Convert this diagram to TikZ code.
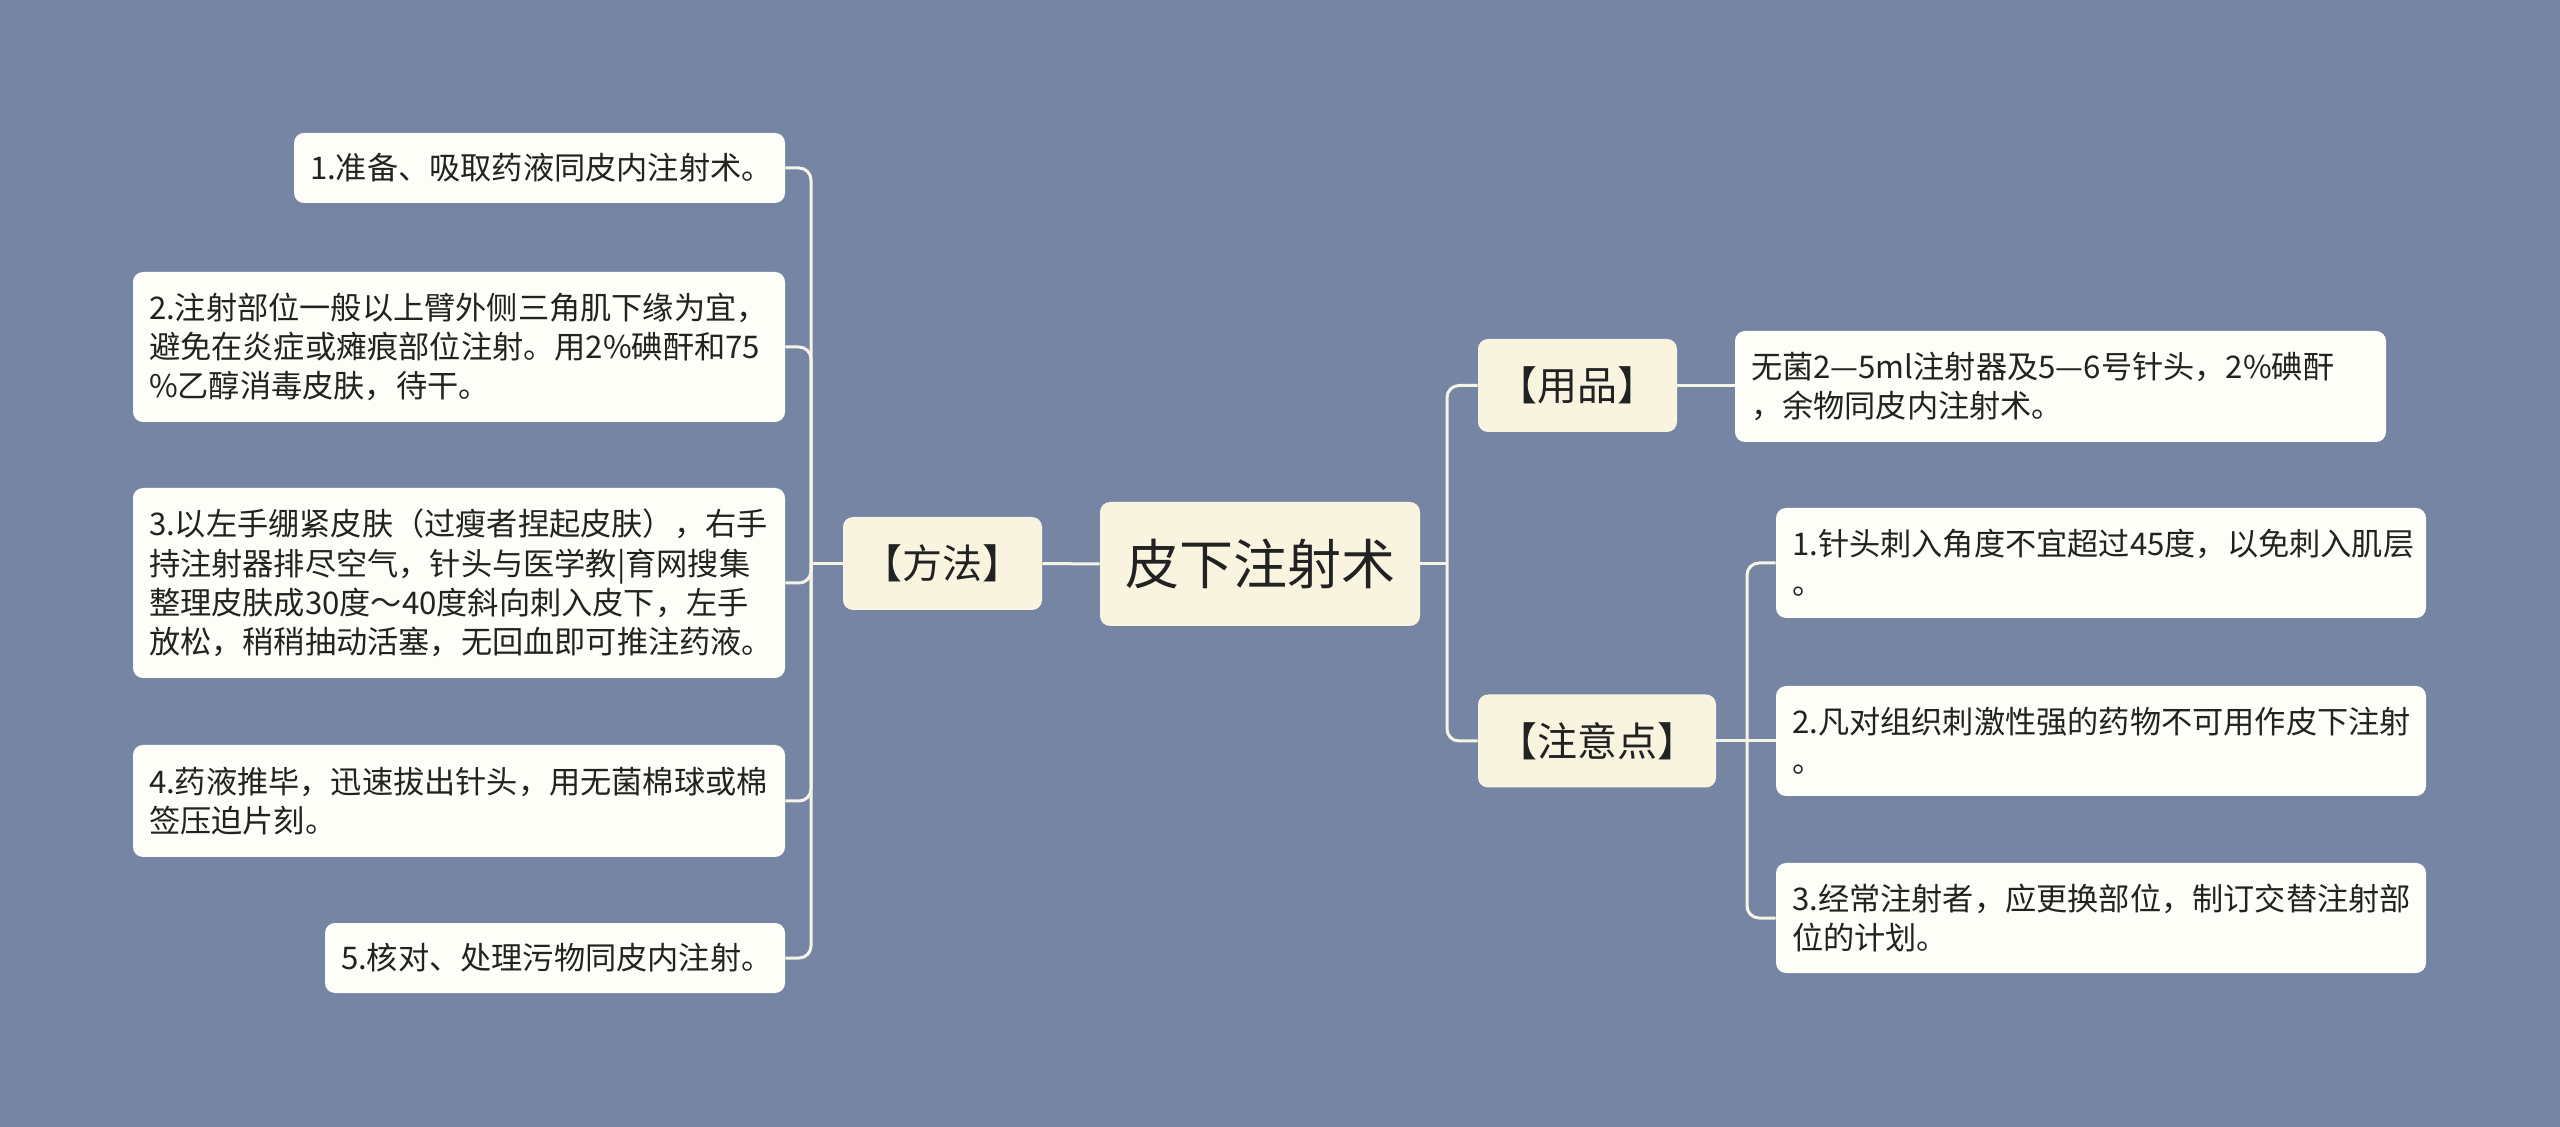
\documentclass[tikz,border=0pt]{standalone}
\usepackage{fontspec}
\newfontfamily\cjk{Noto Sans CJK SC}
\definecolor{bg}{RGB}{119,133,165}
\definecolor{cream}{RGB}{248,244,224}
\definecolor{leaffill}{RGB}{254,254,248}
\definecolor{linec}{RGB}{246,244,230}
\definecolor{txt}{RGB}{34,34,34}
\begin{document}
\begin{tikzpicture}[x=0.5pt,y=-0.5pt,
  base/.style={rectangle, rounded corners=5pt, text=txt},
  rootbox/.style={base, fill=cream, font=\fontsize{27}{31}\cjk, minimum width=160pt, minimum height=62pt, inner sep=0pt},
  topic/.style={base, fill=cream, font=\fontsize{20}{24}\cjk, minimum height=46.5pt, inner sep=0pt},
  leaf/.style={base, fill=leaffill, font=\fontsize{15.6}{19.6}\cjk, align=left, inner xsep=8pt, inner ysep=0pt},
  conn/.style={draw=linec, line width=1.5pt, rounded corners=6pt}]
\fill[bg] (0,0) rectangle (2560,1127);
\useasboundingbox (0,0) rectangle (2560,1127);

% left leaves
\node[leaf, text width=229.5pt, minimum height=35pt] (l1) at (539.5,168) {1.准备、吸取药液同皮内注射术。};
\node[leaf, text width=310pt, minimum height=75pt] (l2) at (459,347) {2.注射部位一般以上臂外侧三角肌下缘为宜，\\避免在炎症或瘫痕部位注射。用2\%碘酐和75\\\%乙醇消毒皮肤，待干。};
\node[leaf, text width=310pt, minimum height=95pt] (l3) at (459,583) {3.以左手绷紧皮肤（过瘦者捏起皮肤），右手\\持注射器排尽空气，针头与医学教|育网搜集\\整理皮肤成30度～40度斜向刺入皮下，左手\\放松，稍稍抽动活塞，无回血即可推注药液。};
\node[leaf, text width=310pt, minimum height=56pt] (l4) at (459,801) {4.药液推毕，迅速拔出针头，用无菌棉球或棉\\签压迫片刻。};
\node[leaf, text width=214pt, minimum height=35pt] (l5) at (555,958) {5.核对、处理污物同皮内注射。};

% topics and root
\node[topic, minimum width=99.5pt] (method) at (942.5,563.5) {【方法】};
\node[rootbox] (root) at (1260,564) {皮下注射术};
\node[topic, minimum width=99.5pt] (yp) at (1577.5,385.5) {【用品】};
\node[topic, minimum width=119pt] (zy) at (1597,741) {【注意点】};

% right leaves
\node[leaf, text width=309.5pt, minimum height=55.5pt] (ypl) at (2060.5,386.5) {无菌2—5ml注射器及5—6号针头，2\%碘酐\\，余物同皮内注射术。};
\node[leaf, text width=309pt, minimum height=55pt] (n1) at (2101,563) {1.针头刺入角度不宜超过45度，以免刺入肌层\\。};
\node[leaf, text width=309pt, minimum height=55pt] (n2) at (2101,741) {2.凡对组织刺激性强的药物不可用作皮下注射\\。};
\node[leaf, text width=309pt, minimum height=55pt] (n3) at (2101,918) {3.经常注射者，应更换部位，制订交替注射部\\位的计划。};

% connectors
\coordinate (lt) at (811,563.5);
\coordinate (rt) at (1447,564);
\coordinate (zt) at (1747,741);
\draw[conn] (root.west) -- (method.east);
\draw[conn] (method.west) -- (lt);
\foreach \n in {l1,l2,l3,l4,l5} \draw[conn] (lt) |- (\n.east);
\draw[conn] (root.east) -- (rt);
\draw[conn] (rt) |- (yp.west);
\draw[conn] (rt) |- (zy.west);
\draw[conn] (yp.east) -- (yp.east -| ypl.west);
\draw[conn] (zy.east) -- (n2.west);
\draw[conn] (zt) |- (n1.west);
\draw[conn] (zt) |- (n3.west);
\end{tikzpicture}
\end{document}
